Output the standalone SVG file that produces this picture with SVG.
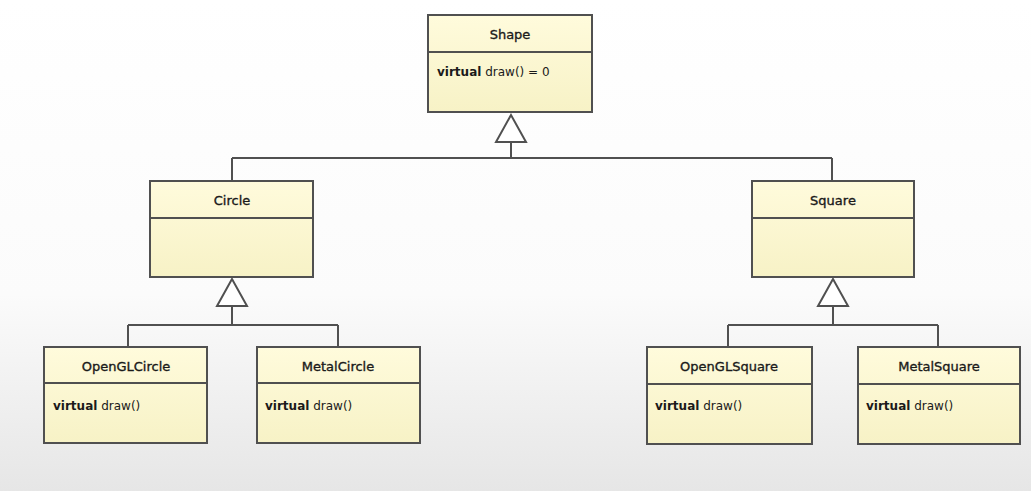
<svg xmlns="http://www.w3.org/2000/svg" width="1031" height="491" viewBox="0 0 1031 491">
<defs>
<linearGradient id="bg" x1="0" y1="0" x2="0" y2="1">
<stop offset="0" stop-color="#ffffff"/>
<stop offset="0.6" stop-color="#fbfbfb"/>
<stop offset="1" stop-color="#e6e6e6"/>
</linearGradient>
<linearGradient id="box" x1="0" y1="0" x2="0" y2="1">
<stop offset="0" stop-color="#fffbdc"/>
<stop offset="1" stop-color="#f7f2c6"/>
</linearGradient>
</defs>
<style>
.box{fill:url(#box);stroke:#505050;stroke-width:2}
.div{stroke:#505050;stroke-width:2}
.t{font-family:"DejaVu Sans",Verdana,sans-serif;font-size:12px;fill:#1a1a1a}
.n{text-anchor:middle;font-size:13px;stroke:#1a1a1a;stroke-width:0.35}
.b{font-weight:bold}
.c{fill:none;stroke:#505050;stroke-width:2}
.tri{fill:#ffffff;stroke:#505050;stroke-width:2;stroke-linejoin:miter}
</style>
<rect width="1031" height="491" fill="url(#bg)"/>
<g id="connectors">
<polygon class="tri" points="511,115 496,142 526,142"/>
<path class="c" d="M511,142V158M232,158H832M232,158V181M832,158V181"/>
<polygon class="tri" points="232,279 217,306 247,306"/>
<path class="c" d="M232,306V325M128,325H338M128,325V347M338,325V347"/>
<polygon class="tri" points="833,279 818,306 848,306"/>
<path class="c" d="M833,306V325M728,325H938M728,325V347M938,325V347"/>
</g>
<g id="Shape">
<rect class="box" x="428" y="15" width="164" height="97"/>
<line class="div" x1="428" y1="52" x2="592" y2="52"/>
<text class="t n" x="510" y="39">Shape</text>
<text class="t" x="437" y="76"><tspan class="b">virtual</tspan> draw() = 0</text>
</g>
<g id="Circle">
<rect class="box" x="150" y="181" width="163" height="96"/>
<line class="div" x1="150" y1="218" x2="313" y2="218"/>
<text class="t n" x="232" y="205">Circle</text>
</g>
<g id="Square">
<rect class="box" x="752" y="181" width="162" height="96"/>
<line class="div" x1="752" y1="218" x2="914" y2="218"/>
<text class="t n" x="833" y="205">Square</text>
</g>
<g id="OpenGLCircle">
<rect class="box" x="44" y="347" width="163" height="96"/>
<line class="div" x1="44" y1="383" x2="207" y2="383"/>
<text class="t n" x="126" y="371">OpenGLCircle</text>
<text class="t" x="53" y="410"><tspan class="b">virtual</tspan> draw()</text>
</g>
<g id="MetalCircle">
<rect class="box" x="257" y="347" width="163" height="96"/>
<line class="div" x1="257" y1="383" x2="420" y2="383"/>
<text class="t n" x="338" y="371">MetalCircle</text>
<text class="t" x="265" y="410"><tspan class="b">virtual</tspan> draw()</text>
</g>
<g id="OpenGLSquare">
<rect class="box" x="647" y="347" width="165" height="97"/>
<line class="div" x1="647" y1="384" x2="812" y2="384"/>
<text class="t n" x="729" y="371">OpenGLSquare</text>
<text class="t" x="655" y="410"><tspan class="b">virtual</tspan> draw()</text>
</g>
<g id="MetalSquare">
<rect class="box" x="858" y="347" width="162" height="97"/>
<line class="div" x1="858" y1="384" x2="1020" y2="384"/>
<text class="t n" x="939" y="371">MetalSquare</text>
<text class="t" x="866" y="410"><tspan class="b">virtual</tspan> draw()</text>
</g>
</svg>
